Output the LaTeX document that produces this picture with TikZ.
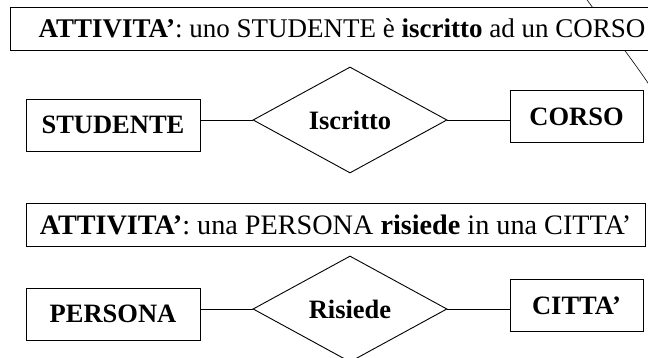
\documentclass[tikz,border=0pt]{standalone}
\usepackage{fontspec}
\setmainfont{Liberation Serif}
\usetikzlibrary{shapes.geometric}

\begin{document}
\begin{tikzpicture}[x=1pt, y=1pt, line width=0.9pt,
                    every node/.style = {inner sep=0pt, align=center,
                    font=\fontsize{26.5}{30}\selectfont},
                    entity/.style = {draw, shape=rectangle, fill=white,
                    minimum height=52pt, font=\fontsize{26.5}{30}\selectfont\bfseries},
                    relation/.style = {draw, shape=diamond, fill=white,
                    minimum width=194pt, minimum height=106pt,
                    font=\fontsize{26.5}{30}\selectfont\bfseries},
                    activity/.style = {draw, shape=rectangle, fill=white,
                    minimum height=43pt}]
  \path[use as bounding box, clip] (0,0) rectangle (648,358);
  % curve behind the first box
  \coordinate (arcA) at (585,361);
  \coordinate (arcB) at (650,272);
  \draw[line width=0.6pt] (arcA) .. controls (605,333) and (630,302) .. (arcB);

  % first activity
  \node[activity, minimum width=664pt, font=\fontsize{27}{30}\selectfont] (att1) at (342,329.5)
    {\textbf{ATTIVITA'}: uno STUDENTE è \textbf{iscritto} ad un CORSO};
  \node[entity, minimum width=174pt] (studente) at (113,233) {STUDENTE};
  \node[relation] (iscritto) at (350,238) {Iscritto};
  \node[entity, minimum width=133pt] (corso) at (576.5,241.5) {CORSO};
  \draw (studente.east |- iscritto.west) -- (iscritto.west);
  \draw (iscritto.east) -- (iscritto.east -| corso.west);

  % second activity
  \node[activity, minimum width=619pt, font=\fontsize{28.2}{32}\selectfont] (att2) at (335.5,133.3)
    {\textbf{ATTIVITA'}: una PERSONA \textbf{risiede} in una CITTA'};
  \node[entity, minimum width=174pt] (persona) at (113,44) {PERSONA};
  \node[relation] (risiede) at (350,49) {Risiede};
  \node[entity, minimum width=133pt] (citta) at (576.5,52.5) {CITTA'};
  \draw (persona.east |- risiede.west) -- (risiede.west);
  \draw (risiede.east) -- (risiede.east -| citta.west);
\end{tikzpicture}
\end{document}
